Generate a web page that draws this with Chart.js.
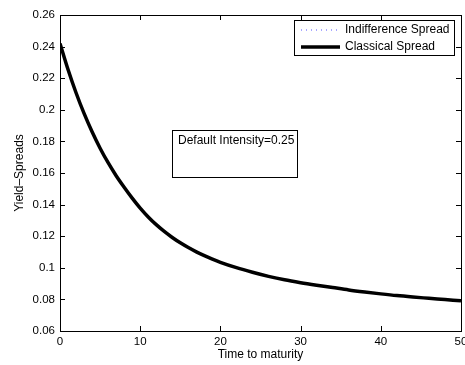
<!DOCTYPE html>
<html>
<head>
<meta charset="utf-8">
<script src="https://cdn.jsdelivr.net/npm/chart.js@4/dist/chart.umd.min.js"></script>
<style>
html,body{margin:0;padding:0;background:#fff;}
#wrap{width:465px;height:365px;}
</style>
</head>
<body>
<div id="wrap"><canvas id="c" width="465" height="365"></canvas></div>
<script>
// ---- data ----
const maturities = [0,1,2,3,4,5,6,7,8,9,10,11,12,13,14,15,16,17,18,19,20,22,24,26,28,30,32,34,36,38,40,42,44,46,48,50];
const classicalSpread = [0.2420,0.2255,0.2108,0.1977,0.1861,0.1757,0.1665,0.1583,0.1510,0.1441,0.1378,0.1322,0.1273,0.1230,0.1192,0.1158,0.1128,0.1101,0.1077,0.1055,0.1035,0.1001,0.0972,0.0946,0.0924,0.0906,0.0890,0.0875,0.0860,0.0847,0.0835,0.0824,0.0815,0.0807,0.0799,0.0791];
const indifferenceSpread = [0.2420,0.2255,0.2108,0.1977,0.1861,0.1757,0.1665,0.1583,0.1510,0.1441,0.1378,0.1322,0.1273,0.1230,0.1192,0.1158,0.1128,0.1101,0.1077,0.1055,0.1035,0.1001,0.0972,0.0946,0.0924,0.0906,0.0890,0.0875,0.0860,0.0847,0.0835,0.0824,0.0815,0.0807,0.0799,0.0791];
const seriesNames = ["Indifference Spread","Classical Spread"];
const xTicks = [0,10,20,30,40,50];
const yTicks = [0.06,0.08,0.1,0.12,0.14,0.16,0.18,0.2,0.22,0.24,0.26];
const annotationText = "Default Intensity=0.25";
const xTitle = "Time to maturity";
const yTitle = "Yield\u2013Spreads";

const FONT = "'Liberation Sans', Arial, sans-serif";

const framePlugin = {
  id: 'frame',
  afterDraw(chart) {
    const ctx = chart.ctx;
    const a = chart.chartArea;
    const xs = chart.scales.x, ys = chart.scales.y;
    ctx.save();
    ctx.strokeStyle = '#000';
    ctx.lineWidth = 1;
    ctx.strokeRect(Math.round(a.left)+0.5, Math.round(a.top)+0.5, Math.round(a.right-a.left), Math.round(a.bottom-a.top));
    const L = 5;
    ctx.beginPath();
    xTicks.forEach(v => {
      const px = Math.round(xs.getPixelForValue(v)) + 0.5;
      ctx.moveTo(px, a.bottom); ctx.lineTo(px, a.bottom - L);
      ctx.moveTo(px, a.top); ctx.lineTo(px, a.top + L);
    });
    yTicks.forEach(v => {
      const py = Math.round(ys.getPixelForValue(v)) + 0.5;
      ctx.moveTo(a.left, py); ctx.lineTo(a.left + L, py);
      ctx.moveTo(a.right, py); ctx.lineTo(a.right - L, py);
    });
    ctx.stroke();

    // annotation box
    ctx.fillStyle = '#fff';
    ctx.fillRect(172.5, 130.5, 125, 47);
    ctx.strokeRect(172.5, 130.5, 125, 47);
    ctx.fillStyle = '#000';
    ctx.font = "12px " + FONT;
    ctx.textBaseline = 'middle';
    ctx.textAlign = 'left';
    ctx.fillText(annotationText, 178, 141);

    // legend
    ctx.fillStyle = '#fff';
    ctx.fillRect(294.5, 20.5, 160, 35);
    ctx.strokeRect(294.5, 20.5, 160, 35);
    const ds = chart.data.datasets;
    const rows = [30, 47];
    ds.forEach((d, i) => {
      ctx.save();
      ctx.strokeStyle = d.borderColor;
      ctx.lineWidth = d.borderWidth;
      ctx.setLineDash(d.borderDash || []);
      ctx.beginPath();
      ctx.moveTo(301, rows[i]); ctx.lineTo(340, rows[i]);
      ctx.stroke();
      ctx.restore();
      ctx.fillStyle = '#000';
      ctx.fillText(d.label, 345, rows[i]);
    });
    ctx.restore();
  }
};

new Chart(document.getElementById('c'), {
  type: 'line',
  data: {
    datasets: [
      {
        label: seriesNames[0],
        data: maturities.map((t, i) => ({x: t, y: indifferenceSpread[i]})),
        borderColor: '#5050ff',
        borderWidth: 1,
        borderDash: [1, 4],
        pointRadius: 0,
        cubicInterpolationMode: 'monotone',
        order: 2
      },
      {
        label: seriesNames[1],
        data: maturities.map((t, i) => ({x: t, y: classicalSpread[i]})),
        borderColor: '#000',
        borderWidth: 3.5,
        pointRadius: 0,
        cubicInterpolationMode: 'monotone',
        order: 1
      }
    ]
  },
  options: {
    responsive: false,
    animation: false,
    layout: { padding: { top: 15, right: 4, left: 0, bottom: 0 } },
    plugins: { legend: { display: false }, tooltip: { enabled: false } },
    scales: {
      x: {
        type: 'linear',
        min: 0, max: 50,
        afterBuildTicks: s => { s.ticks = xTicks.map(v => ({value: v})); },
        afterFit: s => { s.height = 34; s.paddingLeft = 0; s.paddingRight = 0; },
        grid: { display: false, drawTicks: false },
        border: { display: false },
        ticks: { color: '#000', font: { family: FONT, size: 11.5 }, padding: 4, maxRotation: 0 },
        title: { display: true, text: xTitle, color: '#000', font: { family: FONT, size: 12 }, padding: { top: 0, bottom: 3 } }
      },
      y: {
        min: 0.06, max: 0.26,
        afterBuildTicks: s => { s.ticks = yTicks.map(v => ({value: v})); },
        afterFit: s => { s.width = 60; s.paddingTop = 0; s.paddingBottom = 0; },
        grid: { display: false, drawTicks: false },
        border: { display: false },
        ticks: { color: '#000', font: { family: FONT, size: 11.5 }, padding: 5,
                 callback: v => String(parseFloat(v.toFixed(2))) },
        title: { display: true, text: yTitle, color: '#000', font: { family: FONT, size: 12 }, padding: { top: 12, bottom: 0 } }
      }
    }
  },
  plugins: [framePlugin]
});
</script>
</body>
</html>
